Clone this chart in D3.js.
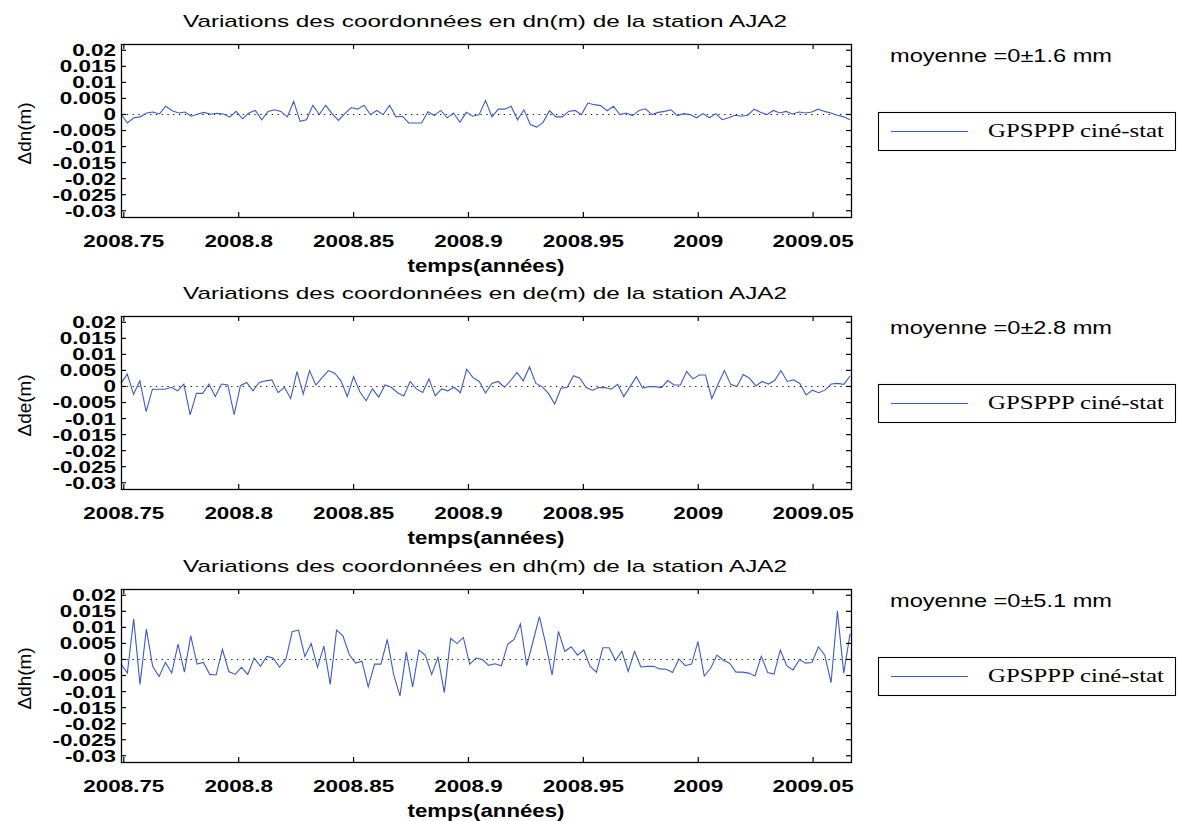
<!DOCTYPE html>
<html><head><meta charset="utf-8">
<script src="https://cdn.jsdelivr.net/npm/d3@7"></script>
<style>
html,body{margin:0;padding:0;background:#fff;}
svg{display:block;}
</style></head>
<body>
<svg id="chart" width="1179" height="821"></svg>
<script>
// ---------- data ----------
const station = "AJA2";
const components = ["dn", "de", "dh"];
const meanLabels = ["moyenne =0\u00b11.6 mm", "moyenne =0\u00b12.8 mm", "moyenne =0\u00b15.1 mm"];
const legendLabel = "GPSPPP cin\u00e9-stat";
const xLabel = "temps(ann\u00e9es)";
const xTickValues = [2008.75, 2008.8, 2008.85, 2008.9, 2008.95, 2009, 2009.05];
const xTickLabels = ["2008.75", "2008.8", "2008.85", "2008.9", "2008.95", "2009", "2009.05"];
const yTickValues = [0.02, 0.015, 0.01, 0.005, 0, -0.005, -0.01, -0.015, -0.02, -0.025, -0.03];
const yTickLabels = ["0.02", "0.015", "0.01", "0.005", "0", "-0.005", "-0.01", "-0.015", "-0.02", "-0.025", "-0.03"];
const tStart = 2008.749, tEnd = 2009.0663;   // first and last daily epoch

const dn = [0, -0.0028, -0.0012, -0.0009, 0.0003, 0.0006, 0, 0.0024, 0.001, 0.0003, 0.0006, -0.0007, 0, 0.0005, -0.0001, 0.0002, 0, -0.001, 0.0008, -0.0015, 0.0003, 0.0011, -0.0018, 0.0008, 0.0013, 0.0008, -0.0009, 0.0039, -0.0023, -0.0018, 0.0027, -0.0002, 0.0027, 0.0001, -0.002, 0.0001, 0.002, 0.0015, 0.0027, -0.0002, 0.0011, -0.0002, 0.0027, -0.0009, -0.0007, -0.0028, -0.0028, -0.0028, 0.0007, -0.0005, 0.0011, -0.0012, 0.0003, -0.0026, 0.0005, -0.0007, -0.0002,
  0.0042, -0.0009, 0.0015, 0.0015, 0.0024, -0.0018, 0.0013, -0.0033, -0.0041, -0.0026, 0.001, -0.0009, -0.0009, 0.0008, 0.0011, -0.0002, 0.0034, 0.0029, 0.0026, 0.001, 0.0024, -0.0002, 0.0003, -0.0005, 0.0011, 0.0016, -0.0002, 0.0005, 0.0008, 0.0013, -0.0005, 0.0001, -0.0002, -0.0012, 0.0001, -0.0012, 0.0001, -0.0018, -0.0012, -0.0004, -0.0007, -0.0004, 0.0015, 0.0005, -0.0002, 0.0011, 0.0003, 0.0008, 0, 0.0006, 0.0003, 0.0006, 0.0015, 0.0008, 0.0003, -0.0004, -0.0009, -0.0018];

const de = [0.0008, 0.0037, -0.0026, 0.0016, -0.008, -0.001, -0.001, -0.001, -0.0004, -0.0015, 0.0006, -0.009, -0.0023, -0.0023, 0.0006, -0.0033, 0.0006, 0.0003, -0.0089, 0.0001, 0.0011, -0.0015, 0.0011, 0.0016, 0.0019, -0.0021, -0.0004, -0.0039, 0.0045, -0.0025, 0.0048, 0.0003, 0.0026, 0.0048, 0.004, 0.0016, -0.0033, 0.0029, -0.0018, -0.0046, -0.0009, -0.0035, 0.0003, -0.0004, -0.0021, -0.0031, 0.0014, -0.0009, -0.002, 0.0022, -0.0031, -0.0009, -0.0015, -0.0004, -0.0021, 0.0052, 0.0026, 0.0014, -0.0022,
  0.0008, 0.0014, -0.0004, 0.0017, 0.0042, 0.0016, 0.006, 0.0008, -0.0002, -0.0023, -0.0056, -0.0007, -0.0004, 0.0032, 0.0024, -0.0005, -0.0013, -0.0005, -0.0005, -0.001, 0.0005, -0.0033, -0.0002, 0.0029, -0.0007, -0.0002, -0.0002, -0.0005, 0.0017, 0.0003, 0.0003, 0.0045, 0.0022, 0.0034, 0.0034, -0.0039, 0.0006, 0.0048, 0.0005, -0.0002, 0.0036, 0.0024, 0, 0.0014, 0.0006, 0.0017, 0.0048, 0.0014, 0.0019, 0.0008, -0.0028, -0.0013, -0.0021, -0.0013, 0.0006, 0.0008, 0.0005, 0.0031];

const dh = [-0.0016, -0.0044, 0.0125, -0.0079, 0.0093, -0.0023, -0.0055, -0.0011, -0.0044, 0.0046, -0.0041, 0.0072, -0.0016, -0.0011, -0.0048, -0.005, 0.003, -0.0039, -0.0048, -0.0026, -0.0048, 0.0003, -0.0023, 0.0008, 0.0003, -0.0025, -0.0002, 0.0085, 0.009, 0.0008, 0.0048, -0.0026, 0.004, -0.0079, 0.009, 0.0072, 0.0014, -0.0013, -0.0007, -0.0087, -0.0016, -0.0016, 0.0061, -0.0048, -0.0115, 0.0022, -0.0087, 0.0028, 0.0011, -0.0048, 0.0005, -0.0105, 0.0064, 0.0048, 0.0067, -0.0016, 0.0003, -0.0002, -0.002,
  -0.0015, -0.0021, 0.0046, 0.0061, 0.0109, -0.0021, 0.0056, 0.0132, 0.0046, -0.005, 0.0086, 0.0024, 0.0038, 0.0012, 0.0028, -0.0023, -0.0041, 0.0035, 0.0035, -0.0005, 0.0024, -0.0039, 0.0024, -0.0025, -0.0023, -0.0023, -0.0031, -0.0032, -0.0042, 0, -0.0021, -0.0016, 0.0054, -0.0053, -0.0029, 0.0012, -0.0004, -0.0013, -0.0041, -0.0041, -0.0044, -0.0053, 0.0008, -0.0042, -0.0047, 0.0028, -0.0021, -0.0034, -0.0002, -0.0013, -0.0011, 0.0038, 0.0012, -0.0074, 0.0149, -0.0044, 0.0079];

const seriesList = [dn, de, dh];

// ---------- layout ----------
const svg = d3.select("#chart");
const plotLeft = 121, plotRight = 851, plotH = 173;
const panelTops = [44, 316, 589];
const lineColor = "#3b5cc8";
const sans = "'Liberation Sans', Arial, Helvetica, sans-serif";
const serif = "'Liberation Serif', 'Times New Roman', serif";

const x = d3.scaleLinear().domain([2008.749, 2009.0667]).range([plotLeft, plotRight]);

function stretch(sel, k) {
  sel.each(function () {
    const w = this.getComputedTextLength();
    this.setAttribute("textLength", (w * k).toFixed(1));
    this.setAttribute("lengthAdjust", "spacingAndGlyphs");
  });
}
function fitWidth(sel, target) {
  sel.attr("textLength", target).attr("lengthAdjust", "spacingAndGlyphs");
}

seriesList.forEach((vals, p) => {
  const top = panelTops[p];
  const y = d3.scaleLinear().domain([-0.0321, 0.0218]).range([top + plotH, top]);
  const g = svg.append("g");
  const n = vals.length;
  const pts = vals.map((v, i) => ({ t: tStart + (tEnd - tStart) * i / (n - 1), v }));

  // zero dotted line
  g.append("line")
    .attr("x1", plotLeft).attr("x2", plotRight)
    .attr("y1", Math.round(y(0)) + 0.5).attr("y2", Math.round(y(0)) + 0.5)
    .attr("stroke", "#111").attr("stroke-width", 1)
    .attr("stroke-dasharray", "1.3,4.5");

  // series
  g.append("path").datum(pts)
    .attr("fill", "none").attr("stroke", lineColor).attr("stroke-width", 1.1)
    .attr("d", d3.line().x(d => x(d.t)).y(d => y(d.v)));

  // axes (ticks inward)
  const axB = g.append("g").attr("transform", `translate(0,${top + plotH})`)
    .call(d3.axisBottom(x).tickValues(xTickValues).tickFormat((d, i) => xTickLabels[i]).tickSize(-5).tickSizeOuter(0));
  const axT = g.append("g").attr("transform", `translate(0,${top})`)
    .call(d3.axisTop(x).tickValues(xTickValues).tickFormat("").tickSize(-5).tickSizeOuter(0));
  const axL = g.append("g").attr("transform", `translate(${plotLeft},0)`)
    .call(d3.axisLeft(y).tickValues(yTickValues).tickFormat((d, i) => yTickLabels[i]).tickSize(-5).tickSizeOuter(0));
  const axR = g.append("g").attr("transform", `translate(${plotRight},0)`)
    .call(d3.axisRight(y).tickValues(yTickValues).tickFormat("").tickSize(-5).tickSizeOuter(0));
  [axB, axT, axL, axR].forEach(a => {
    a.select(".domain").remove();
    a.selectAll(".tick line").attr("stroke", "#000").attr("stroke-width", 1.2);
  });
  axB.selectAll(".tick text")
    .attr("y", 30).attr("dy", 0)
    .attr("font-family", sans).attr("font-size", 17).attr("font-weight", "bold").attr("fill", "#000");
  axL.selectAll(".tick text")
    .attr("x", -5).attr("dy", "0.36em")
    .attr("font-family", sans).attr("font-size", 16.5).attr("font-weight", "bold").attr("fill", "#000");

  // frame
  g.append("rect")
    .attr("x", plotLeft + 0.5).attr("y", top + 0.5).attr("width", plotRight - plotLeft).attr("height", plotH)
    .attr("fill", "none").attr("stroke", "#000").attr("stroke-width", 1.3);

  // title
  const title = g.append("text")
    .attr("x", (plotLeft + plotRight) / 2 - 1).attr("y", top - 17)
    .attr("text-anchor", "middle")
    .attr("font-family", sans).attr("font-size", 17).attr("fill", "#000")
    .text(`Variations des coordonn\u00e9es en ${components[p]}(m) de la station ${station}`);

  // x label
  const xl = g.append("text")
    .attr("x", (plotLeft + plotRight) / 2).attr("y", top + plotH + 55)
    .attr("text-anchor", "middle")
    .attr("font-family", sans).attr("font-size", 17.5).attr("font-weight", "bold").attr("fill", "#000")
    .text(xLabel);

  // y label
  const yl = g.append("text")
    .attr("transform", `translate(31,${top + plotH / 2 + 3}) rotate(-90)`)
    .attr("text-anchor", "middle")
    .attr("font-family", sans).attr("font-size", 19).attr("fill", "#000")
    .text(`\u0394${components[p]}(m)`);

  // mean label
  const ml = g.append("text")
    .attr("x", 890).attr("y", top + 18)
    .attr("font-family", sans).attr("font-size", 17.5).attr("fill", "#000")
    .text(meanLabels[p]);

  // legend
  const lg = g.append("g");
  lg.append("rect")
    .attr("x", 878.5).attr("y", top + 68.5).attr("width", 297).attr("height", 38)
    .attr("fill", "#fff").attr("stroke", "#000").attr("stroke-width", 1.1);
  lg.append("line")
    .attr("x1", 891).attr("x2", 968).attr("y1", top + 87.5).attr("y2", top + 87.5)
    .attr("stroke", lineColor).attr("stroke-width", 1.1);
  const lt = lg.append("text")
    .attr("x", 988).attr("y", top + 93)
    .attr("font-family", serif).attr("font-size", 18.5).attr("fill", "#000")
    .text(legendLabel);

  // horizontal stretch to mimic the wide reference glyphs
  stretch(axB.selectAll(".tick text"), 1.32);
  stretch(axL.selectAll(".tick text"), 1.36);
  fitWidth(title, 604);
  fitWidth(xl, 157);
  fitWidth(yl, 62);
  fitWidth(ml, 222);
  fitWidth(lt, 176);
});
</script>
</body></html>
